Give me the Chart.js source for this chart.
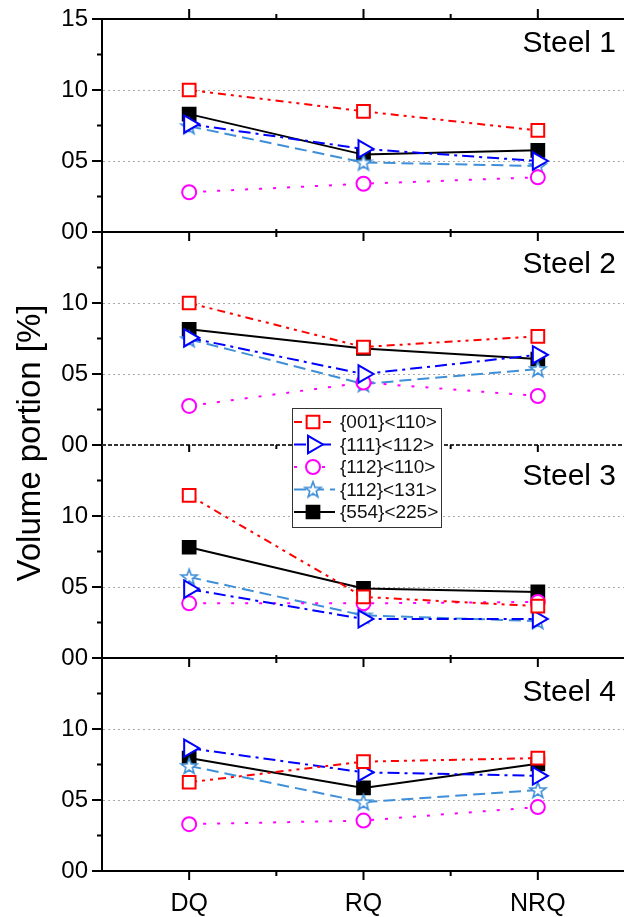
<!DOCTYPE html>
<html><head><meta charset="utf-8">
<script src="https://cdn.jsdelivr.net/npm/chart.js@4.4.1/dist/chart.umd.min.js"></script>
<style>html,body{margin:0;padding:0;overflow:hidden;background:#fff}</style>
</head><body>
<canvas id="c" width="626" height="917" style="display:block"></canvas>
<script>
// ---------- data ----------
const categories = ['DQ', 'RQ', 'NRQ'];
const panelNames = ['Steel 1', 'Steel 2', 'Steel 3', 'Steel 4'];
const seriesNames = ['{001}<110>', '{111}<112>', '{112}<110>', '{112}<131>', '{554}<225>'];
const yMajorTicks = [0, 5, 10, 15];
const yMajorLabels = ['00', '05', '10', '15'];
const yTitle = 'Volume portion [%]';

// one row per series (seriesNames order), columns DQ, RQ, NRQ
const steel1 = [[10.0, 8.5, 7.15], [7.6, 5.85, 5.0], [2.8, 3.4, 3.85], [7.45, 4.9, 4.65], [8.3, 5.45, 5.75]];
const steel2 = [[10.0, 6.9, 7.65], [7.55, 5.0, 6.35], [2.75, 4.4, 3.45], [7.45, 4.3, 5.35], [8.15, 6.8, 6.05]];
const steel3 = [[11.45, 4.3, 3.65], [4.85, 2.75, 2.75], [3.85, 3.85, 3.95], [5.7, 3.0, 2.6], [7.8, 4.9, 4.65]];
const steel4 = [[6.25, 7.7, 7.95], [8.65, 6.95, 6.7], [3.3, 3.55, 4.5], [7.4, 4.85, 5.7], [7.95, 5.85, 7.55]];
const steelData = [steel1, steel2, steel3, steel4];

// ---------- styles ----------
const FONT = "'Liberation Sans', Arial, Helvetica, sans-serif";
const seriesColors = ['#ff0000', '#0000ff', '#ff00ff', '#3f8fd8', '#000000'];
const seriesDash = [[8, 5, 3, 5, 3, 5], [12, 5, 3, 5], [3, 11], [12, 6], []];
const seriesFill = ['#ffffff', '#ffffff', '#ffffff', '#ffffff', '#000000'];
const seriesRadius = [9, 10, 7, 9, 9];

function makeStar(color) {
  const c = document.createElement('canvas');
  c.width = 20; c.height = 20;
  const g = c.getContext('2d');
  const R = 8.3, r = 3.4, cx = 10, cy = 10.6;
  g.beginPath();
  for (let i = 0; i < 10; i++) {
    const a = -Math.PI / 2 + i * Math.PI / 5;
    const rr = i % 2 ? r : R;
    g.lineTo(cx + rr * Math.cos(a), cy + rr * Math.sin(a));
  }
  g.closePath();
  g.fillStyle = '#fff'; g.fill();
  g.lineWidth = 1.6; g.strokeStyle = color; g.stroke();
  return c;
}
const starImg = makeStar(seriesColors[3]);
const seriesPointStyle = ['rect', 'triangle', 'circle', starImg, 'rect'];
const seriesRotation = [0, 90, 0, 0, 0];

const panelIds = ['y1', 'y2', 'y3', 'y4'];

// ---------- datasets ----------
const datasets = [];
steelData.forEach((rows, p) => {
  rows.forEach((vals, s) => {
    datasets.push({
      label: seriesNames[s],
      data: vals,
      yAxisID: panelIds[p],
      borderColor: seriesColors[s],
      backgroundColor: seriesFill[s],
      borderWidth: 2,
      borderDash: seriesDash[s],
      tension: 0,
      pointStyle: seriesPointStyle[s],
      pointRotation: seriesRotation[s],
      pointRadius: seriesRadius[s],
      pointBorderColor: seriesColors[s],
      pointBackgroundColor: seriesFill[s],
      pointBorderWidth: 2,
      fill: false
    });
  });
});

// ---------- scales ----------
const scales = {
  x: {
    type: 'category', labels: categories, offset: true, position: 'bottom',
    grid: { display: false, drawTicks: false },
    border: { display: true, color: '#000', width: 2 },
    ticks: { font: { family: FONT, size: 25 }, color: '#000', padding: 18 },
    afterFit(s) { s.height = 46; s.paddingLeft = 0; s.paddingRight = 0; }
  }
};
panelIds.forEach((id, p) => {
  scales[id] = {
    type: 'linear', position: 'left', stack: 'steel', stackWeight: 1, weight: 4 - p,
    min: 0, max: 15,
    ticks: {
      stepSize: 2.5, autoSkip: false, color: '#000', padding: 14,
      font: { family: FONT, size: 24 },
      callback(v) {
        const k = yMajorTicks.indexOf(v);
        if (k < 0) return '';
        if (v === 15 && p > 0) return '';
        return yMajorLabels[k];
      }
    },
    grid: {
      drawTicks: false, lineWidth: 1,
      color: (c) => (c.tick && (c.tick.value === 5 || c.tick.value === 10)) ? '#a9a9a9' : 'rgba(0,0,0,0)'
    },
    border: { display: true, color: '#000', width: 2, dash: [2, 3] },
    afterFit(s) { s.width = 102; s.paddingTop = 0; s.paddingBottom = 0; }
  };
});

// ---------- frame / labels / legend plugin ----------
const framePlugin = {
  id: 'frame',
  afterDraw(chart) {
    const ctx = chart.ctx;
    const xs = chart.scales.x;
    const area = chart.chartArea;
    const L = area.left, R = area.right;
    const xMaj = categories.map((c, i) => xs.getPixelForValue(i));
    const xMin = [];
    for (let i = 0; i < xMaj.length - 1; i++) xMin.push((xMaj[i] + xMaj[i + 1]) / 2);
    ctx.save();
    ctx.lineCap = 'butt';

    function hTicks(y, majUp, majDown, minUp, minDown) {
      ctx.setLineDash([]);
      ctx.strokeStyle = '#000';
      ctx.lineWidth = 2;
      ctx.beginPath();
      xMaj.forEach(x => { ctx.moveTo(x, y - majUp); ctx.lineTo(x, y + majDown); });
      xMin.forEach(x => { ctx.moveTo(x, y - minUp); ctx.lineTo(x, y + minDown); });
      ctx.stroke();
    }

    panelIds.forEach((id, p) => {
      const s = chart.scales[id];
      ctx.beginPath();
      ctx.lineWidth = 2;
      if (p === 2) { ctx.strokeStyle = '#333'; ctx.setLineDash([4, 2]); }
      else { ctx.strokeStyle = '#000'; ctx.setLineDash([]); }
      ctx.moveTo(L, s.top); ctx.lineTo(R, s.top); ctx.stroke();
      if (p === 0) hTicks(s.top, 10, 0, 5, 0);
      else if (p === 2) hTicks(s.top, 0, 7, 0, 4);
      else hTicks(s.top, 0, 9, 3, 5);

      ctx.setLineDash([]);
      ctx.strokeStyle = '#000';
      ctx.lineWidth = 2;
      ctx.beginPath();
      for (let v = 0; v <= 15; v += 2.5) {
        const y = s.getPixelForValue(v);
        const len = (v % 5 === 0) ? 10 : 5;
        ctx.moveTo(L - len, y); ctx.lineTo(L, y);
      }
      ctx.stroke();

      ctx.fillStyle = '#000';
      ctx.font = '30px ' + FONT;
      ctx.textAlign = 'right';
      ctx.textBaseline = 'alphabetic';
      const off = [33, 41, 40, 43][p];
      ctx.fillText(panelNames[p], R - 9, s.top + off);
    });
    hTicks(xs.top, 0, 9, 0, 5);

    // y title
    ctx.save();
    ctx.translate(31, 443);
    ctx.rotate(-Math.PI / 2);
    ctx.fillStyle = '#000';
    ctx.font = '33px ' + FONT;
    ctx.textAlign = 'center';
    ctx.textBaseline = 'middle';
    ctx.fillText(yTitle, 0, 0);
    ctx.restore();

    // legend
    const bx = 292, by = 408, bw = 149, bh = 119;
    ctx.setLineDash([]);
    ctx.fillStyle = '#fff';
    ctx.fillRect(bx, by, bw, bh);
    ctx.strokeStyle = '#333';
    ctx.lineWidth = 1;
    ctx.strokeRect(bx + 0.5, by + 0.5, bw, bh);
    seriesNames.forEach((name, s) => {
      const cy = by + 14 + s * 22.5;
      ctx.beginPath();
      ctx.strokeStyle = seriesColors[s];
      ctx.lineWidth = 2;
      ctx.setLineDash(seriesDash[s]);
      ctx.moveTo(bx + 2, cy); ctx.lineTo(bx + 43, cy);
      ctx.stroke();
      ctx.setLineDash([]);
      ctx.fillStyle = seriesFill[s];
      ctx.strokeStyle = seriesColors[s];
      ctx.lineWidth = 2;
      Chart.helpers.drawPoint(ctx, {
        pointStyle: seriesPointStyle[s], rotation: seriesRotation[s],
        radius: seriesRadius[s], borderWidth: 2
      }, bx + 21, cy);
      ctx.fillStyle = '#111';
      ctx.font = '19px ' + FONT;
      ctx.textAlign = 'left';
      ctx.textBaseline = 'middle';
      ctx.fillText(name, bx + 48, cy + 1);
    });
    ctx.restore();
  }
};

new Chart(document.getElementById('c'), {
  type: 'line',
  data: { labels: categories, datasets },
  options: {
    responsive: false,
    animation: false,
    devicePixelRatio: 1,
    layout: { autoPadding: false, padding: { top: 19, right: 1, left: 0, bottom: 0 } },
    plugins: { legend: { display: false }, tooltip: { enabled: false } },
    scales
  },
  plugins: [framePlugin]
});
</script>
</body></html>
